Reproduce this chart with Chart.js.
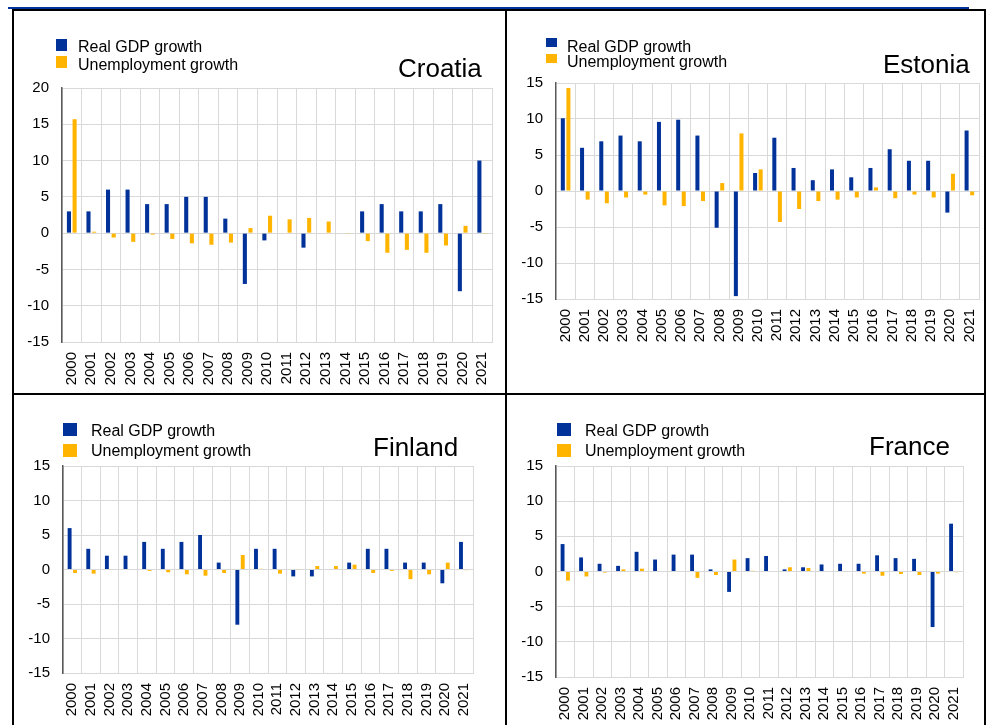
<!DOCTYPE html>
<html>
<head>
<meta charset="utf-8">
<title>Real GDP growth and unemployment growth</title>
<script src="https://cdn.jsdelivr.net/npm/chart.js@4.4.1/dist/chart.umd.min.js"></script>
<style>
  body {
    margin: 0;
    width: 987px;
    height: 725px;
    overflow: hidden;
    background: #fff;
    position: relative;
    font-family: 'Liberation Sans', Arial, sans-serif;
  }
  .rule, canvas, .swatch, .txt { position: absolute; }
  .txt { white-space: nowrap; line-height: 1; color: #000; }
</style>
</head>
<body>

<!-- frame -->
<div class="rule" style="left:8px;top:7px;width:961px;height:2px;background:#003299"></div>
<div class="rule" style="left:12px;top:9px;width:974px;height:2px;background:#000"></div>
<div class="rule" style="left:12px;top:9px;width:2px;height:716px;background:#000"></div>
<div class="rule" style="left:984px;top:9px;width:2px;height:716px;background:#000"></div>
<div class="rule" style="left:505px;top:9px;width:2px;height:716px;background:#000"></div>
<div class="rule" style="left:12px;top:393px;width:974px;height:2px;background:#000"></div>

<script>
// Real GDP growth vs unemployment growth, 2000-2021

const years = ['2000', '2001', '2002', '2003', '2004', '2005', '2006', '2007', '2008', '2009', '2010',
  '2011', '2012', '2013', '2014', '2015', '2016', '2017', '2018', '2019', '2020', '2021'];
const seriesNames = ['Real GDP growth', 'Unemployment growth'];

const croatiaGdp = [3, 3, 6, 6, 4, 4, 5, 5, 2, -7, -1, 0, -2, 0, 0, 3, 4, 3, 3, 4, -8, 10];
const croatiaUnemp = [15.7, 0.2, -0.6, -1.2, -0.2, -0.8, -1.4, -1.6, -1.3, 0.7, 2.4, 1.9, 2.1, 1.6, -0.1, -1.1, -2.7, -2.3, -2.7, -1.7, 1.0, -0.1];

const estoniaGdp = [10.1, 6.0, 6.9, 7.7, 6.9, 9.6, 9.9, 7.7, -5.1, -14.6, 2.5, 7.4, 3.2, 1.5, 3.0, 1.9, 3.2, 5.8, 4.2, 4.2, -3.0, 8.4];
const estoniaUnemp = [14.3, -1.2, -1.7, -0.9, -0.5, -2.0, -2.1, -1.4, 1.1, 8.0, 3.0, -4.3, -2.5, -1.4, -1.2, -0.9, 0.5, -1.0, -0.5, -0.9, 2.4, -0.6];

const finlandGdp = [6, 3, 2, 2, 4, 3, 4, 5, 1, -8, 3, 3, -1, -1, 0, 1, 3, 3, 1, 1, -2, 4];
const finlandUnemp = [-0.5, -0.6, 0, 0, -0.2, -0.4, -0.7, -0.9, -0.5, 2.1, 0.1, -0.6, -0.05, 0.5, 0.5, 0.7, -0.5, -0.2, -1.4, -0.7, 1.0, -0.1];

const franceGdp = [3.9, 2.0, 1.1, 0.8, 2.8, 1.7, 2.4, 2.4, 0.3, -2.9, 1.9, 2.2, 0.3, 0.6, 1.0, 1.1, 1.1, 2.3, 1.9, 1.8, -7.9, 6.8];
const franceUnemp = [-1.3, -0.7, -0.15, 0.3, 0.4, 0, 0, -0.9, -0.5, 1.7, 0.1, 0, 0.6, 0.5, 0, 0, -0.3, -0.6, -0.35, -0.5, -0.3, -0.1];

const colors = {
  blue: '#003299',
  yellow: '#ffb400',
  grid: '#d9d9d9',
  axis: '#595959',
  text: '#000000',
};

Chart.defaults.font.family = "'Liberation Sans', Arial, sans-serif";
Chart.defaults.color = colors.text;

// plot-area boxes
const panels = [
  { name: 'Croatia', gdp: croatiaGdp, unemp: croatiaUnemp, yMin: -15, yMax: 20,
    area: { l: 62, r: 492, t: 88, b: 342 },
    legend: { x: 56, textX: 78, rows: [38.5, 56.5], box: [11, 12], boxY: [39, 56] },
    title: { x: 398, y: 55 } },
  { name: 'Estonia', gdp: estoniaGdp, unemp: estoniaUnemp, yMin: -15, yMax: 15,
    area: { l: 556, r: 979, t: 83, b: 299 },
    legend: { x: 546, textX: 567, rows: [38.5, 53.5], box: [11, 9], boxY: [38, 53.5] },
    title: { x: 883, y: 51 } },
  { name: 'Finland', gdp: finlandGdp, unemp: finlandUnemp, yMin: -15, yMax: 15,
    area: { l: 63, r: 473, t: 466, b: 673 },
    legend: { x: 63, textX: 91, rows: [422.5, 442.5], box: [14, 12.5], boxY: [423.3, 444.3] },
    title: { x: 373, y: 434 } },
  { name: 'France', gdp: franceGdp, unemp: franceUnemp, yMin: -15, yMax: 15,
    area: { l: 556, r: 963, t: 466, b: 677 },
    legend: { x: 557, textX: 585, rows: [422.5, 442.5], box: [14, 12.5], boxY: [423.3, 444.3] },
    title: { x: 869, y: 433 } },
];

const Y_AXIS_W = 45;
const X_AXIS_H = 46;
const PAD_TOP = 10;
const PAD_RIGHT = 4;

function addText(text, x, y, size) {
  const el = document.createElement('div');
  el.className = 'txt';
  el.textContent = text;
  el.style.left = x + 'px';
  el.style.top = y + 'px';
  el.style.fontSize = size + 'px';
  document.body.appendChild(el);
}

function addLegend(lg) {
  const swatchColors = [colors.blue, colors.yellow];
  seriesNames.forEach((label, i) => {
    const sw = document.createElement('div');
    sw.className = 'swatch';
    sw.style.left = lg.x + 'px';
    sw.style.top = lg.boxY[i] + 'px';
    sw.style.width = lg.box[0] + 'px';
    sw.style.height = lg.box[1] + 'px';
    sw.style.background = swatchColors[i];
    document.body.appendChild(sw);
    addText(label, lg.textX, lg.rows[i], 16);
  });
}

function drawPanel(p) {
  const left = p.area.l - Y_AXIS_W;
  const top = p.area.t - PAD_TOP;
  const canvas = document.createElement('canvas');
  canvas.width = p.area.r + PAD_RIGHT - left;
  canvas.height = p.area.b + X_AXIS_H - top;
  canvas.style.left = left + 'px';
  canvas.style.top = top + 'px';
  document.body.appendChild(canvas);

  const barOpts = {
    categoryPercentage: 0.58,
    barPercentage: 0.72,
    borderWidth: 0,
  };

  new Chart(canvas, {
    type: 'bar',
    data: {
      labels: years,
      datasets: [
        { label: seriesNames[0], data: p.gdp, backgroundColor: colors.blue, ...barOpts },
        { label: seriesNames[1], data: p.unemp, backgroundColor: colors.yellow, ...barOpts },
      ]
    },
    options: {
      responsive: false,
      animation: false,
      devicePixelRatio: 1,
      layout: {
        padding: { top: PAD_TOP, right: PAD_RIGHT, left: 0, bottom: 0 },
      },
      plugins: {
        legend: { display: false },
        tooltip: { enabled: false },
      },
      scales: {
        x: {
          grid: { color: colors.grid, offset: true, drawTicks: false },
          border: { color: colors.grid },
          ticks: {
            autoSkip: false,
            minRotation: 90,
            maxRotation: 90,
            padding: 10,
            font: { size: 15 },
          },
          afterFit: (s) => {
            s.height = X_AXIS_H;
            s.paddingLeft = 0;
            s.paddingRight = 0;
          },
        },
        y: {
          min: p.yMin,
          max: p.yMax,
          grid: { color: colors.grid, drawTicks: false },
          border: { color: colors.axis, width: 1.5 },
          ticks: {
            stepSize: 5,
            padding: 13,
            font: { size: 15 },
          },
          afterFit: (s) => {
            s.width = Y_AXIS_W;
            s.paddingTop = 0;
            s.paddingBottom = 0;
          },
        },
      },
    },
  });

  addLegend(p.legend);
  addText(p.name, p.title.x, p.title.y, 26);
}

panels.forEach(drawPanel);
</script>
</body>
</html>
